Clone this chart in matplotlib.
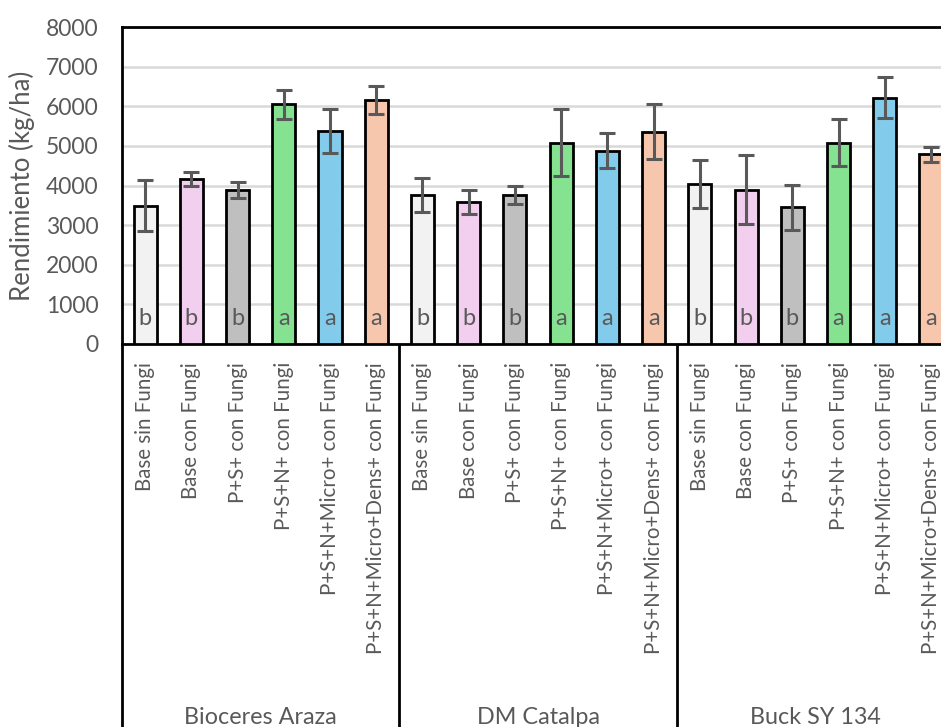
import matplotlib
matplotlib.use("Agg")
import matplotlib.pyplot as plt
import matplotlib.transforms as mtransforms

plt.rcParams['font.family'] = ['Lato', 'DejaVu Sans']

groups = ["Bioceres Araza", "DM Catalpa", "Buck SY 134"]
treatments = ["Base sin Fungi", "Base con Fungi", "P+S+ con Fungi",
              "P+S+N+ con Fungi", "P+S+N+Micro+ con Fungi",
              "P+S+N+Micro+Dens+ con Fungi"]
colors = ["#F2F2F2", "#F2CEEF", "#BFBFBF", "#84E291", "#83CBEB", "#F6C6AD"]

values = [3490, 4165, 3890, 6045, 5370, 6160,
          3760, 3585, 3755, 5085, 4880, 5360,
          4040, 3890, 3450, 5085, 6220, 4790]
errors = [650, 170, 210, 360, 555, 360,
          440, 300, 220, 850, 445, 685,
          600, 870, 565, 600, 515, 190]
letters = ["b", "b", "b", "a", "a", "a",
           "b", "b", "b", "a", "a", "a",
           "b", "b", "b", "a", "a", "a"]

W, H = 941, 727
fig = plt.figure(figsize=(W / 100, H / 100), dpi=100)
left, right, top, bottom = 122, 941, 27, 344
ax = fig.add_axes([left / W, (H - bottom) / H, (right - left) / W, (bottom - top) / H])

n = len(values)
xs = list(range(n))
bar_colors = [colors[i % len(treatments)] for i in xs]
ax.bar(xs, values, width=0.5, color=bar_colors, edgecolor="black", linewidth=2, zorder=3)
ax.errorbar(xs, values, yerr=errors, fmt="none", ecolor="#595959", elinewidth=2.2,
            capsize=6, capthick=2.2, zorder=4)

for x, l in zip(xs, letters):
    ax.text(x, 650, l, ha="center", va="center", fontsize=17, color="#595959", zorder=5)

ax.set_ylim(0, 8000)
ax.set_xlim(-0.5, (941 - 144.9) / 46.24)
ax.set_yticks(range(0, 8001, 1000))
ax.tick_params(axis="y", length=0, pad=17, labelsize=16.5, labelcolor="#595959")
ax.set_xticks([])
ax.grid(axis="y", color="#D9D9D9", linewidth=1.8, zorder=0)
ax.set_axisbelow(True)
for s in ["left", "top", "bottom"]:
    ax.spines[s].set_linewidth(2)
    ax.spines[s].set_color("black")
ax.spines["right"].set_visible(False)
ax.set_ylabel("Rendimiento (kg/ha)", fontsize=18.5, color="#595959", labelpad=8)

trans = mtransforms.blended_transform_factory(ax.transData, fig.transFigure)
ylab = (H - 362) / H
for i in xs:
    ax.text(i, ylab, treatments[i % len(treatments)], rotation=90, ha="center", va="top",
            fontsize=14.8, color="#595959", transform=trans, clip_on=False)

ng = len(treatments)
for g, name in enumerate(groups):
    cx = g * ng + (ng - 1) / 2
    ax.text(cx, (H - 717) / H, name, ha="center", va="center", fontsize=16.8,
            color="#595959", transform=trans, clip_on=False)

for sep in [-0.5, ng - 0.5, 2 * ng - 0.5]:
    ax.plot([sep, sep], [0, (H - bottom) / H], color="black", linewidth=2,
            transform=trans, clip_on=False, solid_capstyle="butt")

fig.savefig("out.png", dpi=100)
